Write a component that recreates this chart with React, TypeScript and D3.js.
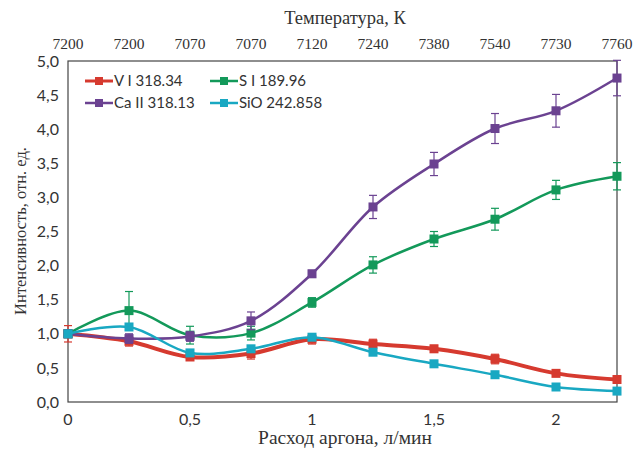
import React, { useEffect, useRef } from 'react'
import * as d3 from 'd3'

interface Pt {
  x: number
  y: number
  e: number
}

const flows = [0, 0.25, 0.5, 0.75, 1, 1.25, 1.5, 1.75, 2, 2.25]
const temps = ['7200', '7200', '7070', '7070', '7120', '7240', '7380', '7540', '7730', '7760']
const yTicks = [0, 0.5, 1, 1.5, 2, 2.5, 3, 3.5, 4, 4.5, 5]
const xTicks = [0, 0.5, 1, 1.5, 2]

const vI = [1.0, 0.89, 0.66, 0.71, 0.92, 0.85, 0.78, 0.63, 0.42, 0.33]
const vIErr = [0.12, 0.07, 0.04, 0.08, 0.07, 0.07, 0.05, 0.07, 0.03, 0.04]
const sI = [1.0, 1.34, 0.98, 1.01, 1.46, 2.01, 2.39, 2.68, 3.11, 3.31]
const sIErr = [0.05, 0.28, 0.13, 0.1, 0.07, 0.12, 0.11, 0.16, 0.14, 0.2]
const caII = [1.0, 0.93, 0.96, 1.19, 1.88, 2.86, 3.49, 4.01, 4.27, 4.75]
const caIIErr = [0.05, 0.07, 0.07, 0.13, 0.05, 0.17, 0.17, 0.22, 0.24, 0.26]
const sio = [1.0, 1.1, 0.72, 0.78, 0.95, 0.73, 0.56, 0.4, 0.22, 0.16]
const sioErr = [0, 0, 0, 0, 0, 0, 0, 0, 0, 0]

const series = [
  { name: 'V I 318.34', color: '#d63a2f', width: 4, values: vI, errs: vIErr },
  { name: 'S I 189.96', color: '#13995a', width: 2.5, values: sI, errs: sIErr },
  { name: 'Ca II 318.13', color: '#6b4291', width: 2.5, values: caII, errs: caIIErr },
  { name: 'SiO 242.858', color: '#19a8c2', width: 2.5, values: sio, errs: sioErr },
]

export default function App() {
  const svgRef = useRef<SVGSVGElement>(null)

  useEffect(() => {
    if (!svgRef.current) return
    const root = d3.select(svgRef.current)
    root.selectAll('*').remove()

    const margin = { top: 61, right: 21, bottom: 48, left: 68 }
    const width = 638 - margin.left - margin.right
    const height = 450 - margin.top - margin.bottom

    const x = d3.scaleLinear().domain([0, 2.25]).range([0, width])
    const y = d3.scaleLinear().domain([0, 5]).range([height, 0])

    const svg = root
      .append('g')
      .attr('transform', `translate(${margin.left},${margin.top})`)

    // frame
    svg
      .append('rect')
      .attr('width', width)
      .attr('height', height)
      .attr('fill', 'none')
      .attr('stroke', '#444')
      .attr('stroke-width', 1.2)

    // left ticks
    svg
      .selectAll('.ylab')
      .data(yTicks)
      .join('text')
      .attr('x', -9)
      .attr('y', (d) => y(d))
      .attr('dy', '0.35em')
      .attr('text-anchor', 'end')
      .style('font-family', 'Lato, sans-serif')
      .style('font-size', '16px')
      .style('fill', '#333')
      .text((d) => d3.format('.1f')(d).replace('.', ','))

    // bottom ticks
    svg
      .selectAll('.xlab')
      .data(xTicks)
      .join('text')
      .attr('x', (d) => x(d))
      .attr('y', height + 23)
      .attr('text-anchor', 'middle')
      .style('font-family', 'Lato, sans-serif')
      .style('font-size', '16px')
      .style('fill', '#333')
      .text((d) => String(d).replace('.', ','))

    // top ticks (temperature)
    svg
      .selectAll('.tlab')
      .data(temps)
      .join('text')
      .attr('x', (_, i) => x(flows[i]))
      .attr('y', -12)
      .attr('text-anchor', 'middle')
      .style('font-family', '"Liberation Serif", serif')
      .style('font-size', '15.5px')
      .style('fill', '#333')
      .text((d) => d)

    // axis titles
    root
      .append('text')
      .attr('x', 345)
      .attr('y', 24)
      .attr('text-anchor', 'middle')
      .style('font-family', '"Liberation Serif", serif')
      .style('font-size', '18.5px')
      .style('fill', '#333')
      .text('Температура, К')

    root
      .append('text')
      .attr('x', 345)
      .attr('y', 444)
      .attr('text-anchor', 'middle')
      .style('font-family', '"Liberation Serif", serif')
      .style('font-size', '19.5px')
      .style('fill', '#333')
      .text('Расход аргона, л/мин')

    root
      .append('text')
      .attr('transform', 'translate(26,231) rotate(-90)')
      .attr('text-anchor', 'middle')
      .style('font-family', '"Liberation Serif", serif')
      .style('font-size', '16.5px')
      .style('fill', '#333')
      .text('Интенсивность, отн. ед.')

    const line = d3
      .line<Pt>()
      .x((d) => x(d.x))
      .y((d) => y(d.y))
      .curve(d3.curveCatmullRom.alpha(0.5))

    series.forEach((s) => {
      const pts: Pt[] = s.values.map((v, i) => ({ x: flows[i], y: v, e: s.errs[i] }))
      const g = svg.append('g')

      // error bars
      const eb = g
        .selectAll('g.eb')
        .data(pts.filter((p) => p.e > 0))
        .join('g')
        .attr('stroke', s.color)
        .attr('stroke-width', 1.2)
      eb.append('line')
        .attr('x1', (d) => x(d.x))
        .attr('x2', (d) => x(d.x))
        .attr('y1', (d) => y(d.y - d.e))
        .attr('y2', (d) => y(d.y + d.e))
      ;[1, -1].forEach((sgn) => {
        eb.append('line')
          .attr('x1', (d) => x(d.x) - 4)
          .attr('x2', (d) => x(d.x) + 4)
          .attr('y1', (d) => y(d.y + sgn * d.e))
          .attr('y2', (d) => y(d.y + sgn * d.e))
      })

      g.append('path')
        .datum(pts)
        .attr('fill', 'none')
        .attr('stroke', s.color)
        .attr('stroke-width', s.width)
        .attr('d', line)

      g.selectAll('rect')
        .data(pts)
        .join('rect')
        .attr('x', (d) => x(d.x) - 4.5)
        .attr('y', (d) => y(d.y) - 4.5)
        .attr('width', 9)
        .attr('height', 9)
        .attr('fill', s.color)
    })

    // legend
    const legend = svg.append('g').attr('transform', 'translate(17,20)')
    series.forEach((s, i) => {
      const col = i % 2
      const row = Math.floor(i / 2)
      const lg = legend
        .append('g')
        .attr('transform', `translate(${col * 125},${row * 22})`)
      lg.append('line')
        .attr('x1', 0)
        .attr('x2', 28)
        .attr('stroke', s.color)
        .attr('stroke-width', s.width === 4 ? 3 : 2.5)
      lg.append('rect')
        .attr('x', 10)
        .attr('y', -4)
        .attr('width', 8)
        .attr('height', 8)
        .attr('fill', s.color)
      lg.append('text')
        .attr('x', 29)
        .attr('dy', '0.35em')
        .style('font-family', 'Lato, sans-serif')
        .style('font-size', '15px')
        .style('fill', '#333')
        .text(s.name)
    })
  }, [])

  return (
    <svg
      ref={svgRef}
      width={638}
      height={450}
      style={{ position: 'absolute', left: 0, top: 0, background: '#fff' }}
    />
  )
}
